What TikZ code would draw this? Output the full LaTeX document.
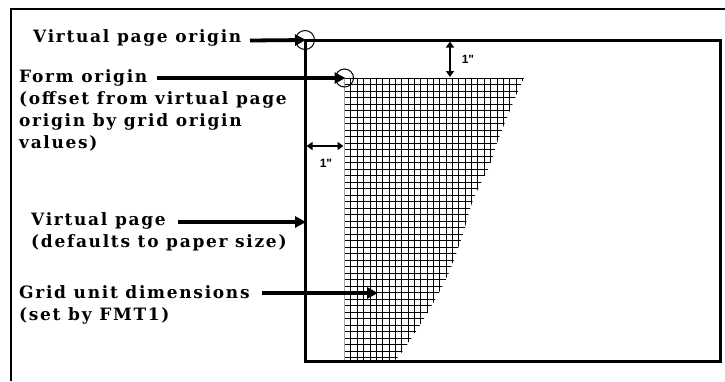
\documentclass[tikz,border=0pt]{standalone}
\usepackage{fontspec}
\setmainfont{DejaVu Serif}
\newfontfamily\lblfont{DejaVu Serif}[LetterSpace=10]
\newfontfamily\dimfont{Liberation Sans}
\usetikzlibrary{arrows.meta}
\tikzset{
  lbl/.style={anchor=base west, inner sep=0pt, font=\lblfont\fontsize{17}{22}\selectfont\bfseries, align=left},
  bigarrow/.style={line width=3.8pt, -{Triangle[length=11pt,width=11pt]}, shorten >=-1pt},
  dimarrow/.style={line width=1.8pt, {Triangle[length=6pt,width=8pt]}-{Triangle[length=6pt,width=8pt]}},
  dimlbl/.style={inner sep=0pt, font=\dimfont\fontsize{12}{14}\selectfont\bfseries},
  ring/.style={circle, draw, line width=1pt, minimum size=19pt, inner sep=0pt},
  gridline/.style={line width=0.8pt}
}
\begin{document}
\begin{tikzpicture}[x=1pt,y=-1pt]
\useasboundingbox (0,0) rectangle (725,381);
% outer frame (cut by the picture edges)
\draw[line width=2pt] (11,381) -- (11,9) -- (725,9);
% grid
\begin{scope}
\clip plot[smooth] coordinates {(524,78) (513,103) (498,140) (489,167) (473,200) (462,237) (447,277) (425,317) (402,352) (394,361)} -- (344.5,361) -- (344.5,78) -- cycle;
\foreach \i in {0,...,30} {\draw[gridline] ({344.5+6.35*\i},78) -- ({344.5+6.35*\i},361);}
\foreach \j in {0,...,44} {\draw[gridline] (344.5,{78.3+6.5*\j}) -- (530,{78.3+6.5*\j});}
\end{scope}
% virtual page
\draw[line width=3pt] (305,40) rectangle (720,361);
\coordinate (vpo) at (305,40);
\coordinate (fo) at (344.5,78);
\node[ring] (c1) at (vpo) {};
\node[ring, minimum size=18pt] (c2) at (fo) {};
% labels (anchored at the baseline of their last line)
\node[lbl] (t1) at (33,42) {Virtual page origin};
\node[lbl] (t2) at (19,148) {Form origin\\(offset from virtual page\\origin by grid origin\\values)};
\node[lbl] (t3) at (31,247) {Virtual page\\(defaults to paper size)};
\node[lbl] (t4) at (19,320) {Grid unit dimensions\\(set by FMT1)};
% arrows
\coordinate (vpleft) at (305,222);
\coordinate (gridpt) at (377,293);
\draw[bigarrow] (250,40.5) -- (vpo);
\draw[bigarrow] (157,78) -- (fo);
\draw[bigarrow] (178,222) -- (vpleft);
\draw[bigarrow] (262,293) -- (gridpt);
% dimensions
\coordinate (d1a) at (450,41.5);
\coordinate (d1b) at (450,77);
\draw[dimarrow] (d1a) -- (d1b);
\node[dimlbl] (l1) at (468,59) {1"};
\coordinate (d2a) at (306.5,146);
\coordinate (d2b) at (343.5,146);
\draw[dimarrow] (d2a) -- (d2b);
\node[dimlbl] (l2) at (326,163) {1"};
\end{tikzpicture}
\end{document}
